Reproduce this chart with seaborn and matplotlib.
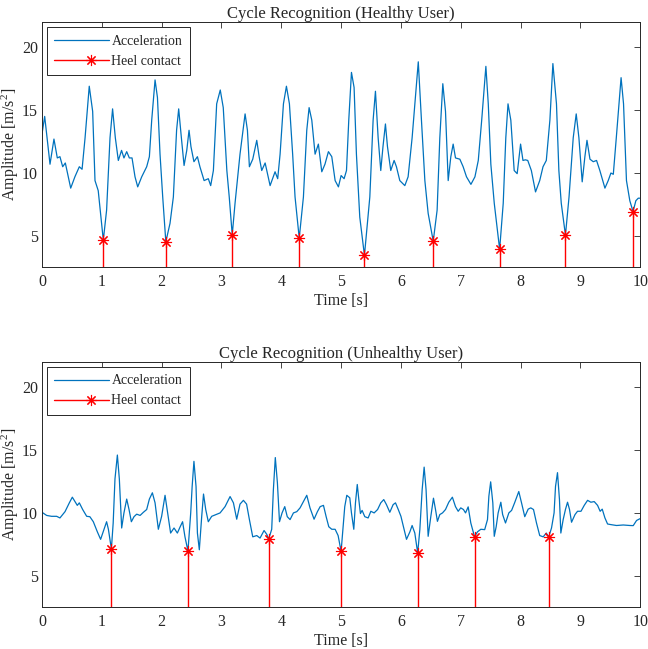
import numpy as np
import pandas as pd
import seaborn as sns
import matplotlib.pyplot as plt
from matplotlib.lines import Line2D
from matplotlib.legend_handler import HandlerLine2D

# Healthy user: acceleration trace
healthy_t = [0.00, 0.045, 0.134, 0.20, 0.256, 0.30, 0.346, 0.39, 0.48, 0.55, 0.624, 0.67,
             0.72, 0.79, 0.847, 0.886, 0.94, 1.025, 1.08, 1.137, 1.18, 1.226, 1.276, 1.33,
             1.37, 1.416, 1.46, 1.505, 1.555, 1.60, 1.667, 1.75, 1.795, 1.834, 1.89, 1.93,
             1.973, 2.018, 2.07, 2.14, 2.196, 2.25, 2.285, 2.33, 2.375, 2.42, 2.458, 2.49,
             2.54, 2.598, 2.64, 2.71, 2.78, 2.82, 2.865, 2.92, 2.98, 3.03, 3.09, 3.13,
             3.18, 3.227, 3.31, 3.395, 3.434, 3.467, 3.523, 3.59, 3.63, 3.673, 3.73, 3.813,
             3.896, 3.94, 3.98, 4.036, 4.086, 4.136, 4.19, 4.23, 4.30, 4.37, 4.426, 4.465,
             4.51, 4.565, 4.62, 4.677, 4.73, 4.788, 4.844, 4.90, 4.955, 5.00, 5.05, 5.09,
             5.128, 5.173, 5.217, 5.256, 5.312, 5.39, 5.48, 5.535, 5.574, 5.619, 5.663, 5.70,
             5.741, 5.775, 5.83, 5.886, 5.925, 5.981, 6.065, 6.12, 6.187, 6.29, 6.343, 6.40,
             6.455, 6.54, 6.605, 6.65, 6.70, 6.745, 6.79, 6.834, 6.873, 6.912, 6.985, 7.04,
             7.096, 7.17, 7.237, 7.293, 7.35, 7.42, 7.46, 7.503, 7.56, 7.65, 7.71, 7.753,
             7.79, 7.837, 7.893, 7.943, 8.00, 8.04, 8.08, 8.12, 8.18, 8.25, 8.32, 8.375,
             8.43, 8.49, 8.54, 8.60, 8.64, 8.68, 8.75, 8.81, 8.88, 8.93, 8.975, 9.03,
             9.075, 9.11, 9.16, 9.215, 9.27, 9.325, 9.41, 9.465, 9.51, 9.55, 9.60, 9.68,
             9.721, 9.77, 9.826, 9.88, 9.927, 9.967, 10.02]
healthy_a = [13.1, 14.5, 10.7, 12.7, 11.2, 11.3, 10.5, 10.8, 8.8, 9.7, 10.5, 10.3,
             12.8, 16.9, 14.9, 9.4, 8.6, 4.66, 7.05, 12.8, 15.1, 12.8, 11.0, 11.8,
             11.2, 11.7, 11.2, 11.2, 9.7, 8.9, 9.7, 10.5, 11.3, 14.2, 17.4, 16.0,
             11.5, 8.1, 4.53, 6.0, 8.1, 13.4, 15.1, 12.8, 10.6, 11.8, 13.4, 12.1,
             10.9, 11.3, 10.5, 9.4, 9.55, 9.0, 10.2, 15.5, 16.6, 15.2, 10.2, 8.1,
             5.08, 7.6, 11.5, 14.7, 13.4, 10.5, 11.1, 12.6, 11.3, 10.2, 10.8, 9.0,
             10.1, 9.55, 11.5, 15.5, 16.9, 15.5, 11.5, 8.1, 4.82, 8.1, 13.4, 15.2,
             14.2, 11.5, 12.3, 10.1, 10.7, 11.7, 11.3, 9.4, 8.9, 9.8, 9.55, 10.2,
             14.2, 18.0, 16.8, 11.5, 6.5, 3.45, 8.1, 14.2, 16.5, 12.8, 10.2, 12.1,
             13.9, 12.1, 10.2, 11.0, 10.5, 9.4, 9.0, 9.7, 12.8, 18.84, 14.2, 9.4,
             6.8, 4.58, 7.05, 12.8, 17.1, 14.9, 9.4, 11.3, 12.3, 11.2, 11.1, 10.5,
             9.7, 9.1, 9.7, 11.0, 14.2, 18.48, 15.5, 10.7, 7.6, 3.93, 7.6, 12.8,
             15.5, 14.2, 10.2, 9.95, 12.3, 11.0, 11.05, 11.0, 10.2, 8.5, 9.4, 10.5,
             11.0, 14.2, 18.7, 15.5, 10.2, 7.6, 5.06, 8.1, 12.8, 14.7, 12.8, 9.3,
             11.3, 12.6, 11.1, 10.9, 11.0, 10.2, 8.8, 9.4, 10.0, 9.9, 12.8, 17.58,
             15.5, 9.4, 7.8, 6.93, 7.8, 8.0, 8.0]
healthy_heel_t = [1.025, 2.07, 3.18, 4.30, 5.39, 6.54, 7.65, 8.75, 9.88]
healthy_heel_a = [4.66, 4.53, 5.08, 4.82, 3.45, 4.58, 3.93, 5.06, 6.93]

# Unhealthy user
unhealthy_t = [0.00, 0.078, 0.16, 0.245, 0.30, 0.385, 0.457, 0.507, 0.552, 0.59, 0.624, 0.68,
               0.747, 0.80, 0.858, 0.925, 0.98, 1.037, 1.08, 1.11, 1.16, 1.19, 1.22, 1.26,
               1.293, 1.332, 1.37, 1.416, 1.455, 1.494, 1.538, 1.583, 1.64, 1.695, 1.75, 1.795,
               1.845, 1.89, 1.945, 2.00, 2.057, 2.10, 2.15, 2.207, 2.263, 2.31, 2.35, 2.39,
               2.44, 2.486, 2.51, 2.54, 2.575, 2.598, 2.63, 2.67, 2.70, 2.737, 2.78, 2.837,
               2.893, 2.977, 3.06, 3.144, 3.20, 3.255, 3.31, 3.367, 3.42, 3.467, 3.523, 3.59,
               3.645, 3.712, 3.757, 3.79, 3.84, 3.868, 3.90, 3.935, 3.97, 4.013, 4.058, 4.10,
               4.147, 4.203, 4.259, 4.314, 4.37, 4.426, 4.48, 4.548, 4.604, 4.65, 4.705, 4.75,
               4.794, 4.844, 4.90, 4.95, 5.00, 5.03, 5.061, 5.095, 5.145, 5.173, 5.212, 5.24,
               5.27, 5.296, 5.323, 5.351, 5.396, 5.452, 5.497, 5.552, 5.61, 5.663, 5.713, 5.758,
               5.814, 5.87, 5.909, 5.953, 6.00, 6.048, 6.093, 6.15, 6.187, 6.232, 6.28, 6.316,
               6.355, 6.388, 6.42, 6.455, 6.50, 6.544, 6.578, 6.61, 6.65, 6.695, 6.745, 6.80,
               6.86, 6.912, 6.957, 7.00, 7.045, 7.08, 7.124, 7.168, 7.23, 7.28, 7.336, 7.40,
               7.447, 7.47, 7.50, 7.536, 7.56, 7.592, 7.625, 7.67, 7.70, 7.748, 7.804, 7.85,
               7.90, 7.97, 8.016, 8.07, 8.127, 8.17, 8.216, 8.266, 8.32, 8.378, 8.43, 8.47,
               8.517, 8.56, 8.584, 8.617, 8.65, 8.673, 8.712, 8.75, 8.785, 8.818, 8.852, 8.91,
               8.952, 9.01, 9.064, 9.12, 9.175, 9.231, 9.287, 9.33, 9.365, 9.41, 9.454, 9.51,
               9.604, 9.716, 9.827, 9.883, 9.939, 10.0]
unhealthy_a = [10.05, 9.8, 9.73, 9.73, 9.6, 10.1, 10.8, 11.25, 10.9, 10.6, 10.8, 10.27,
               9.73, 9.7, 9.3, 8.5, 7.9, 8.7, 9.3, 8.7, 7.13, 9.2, 12.7, 14.6,
               12.7, 8.8, 10.0, 11.1, 10.27, 9.3, 9.7, 9.9, 9.8, 10.05, 10.27, 11.1,
               11.6, 10.8, 8.7, 9.73, 11.4, 10.0, 8.4, 8.8, 8.4, 8.9, 9.3, 8.1,
               6.97, 10.0, 12.1, 14.1, 12.1, 8.4, 7.07, 9.73, 11.5, 10.27, 9.3, 9.73,
               9.84, 10.0, 10.5, 11.3, 10.8, 9.5, 10.7, 11.0, 10.7, 9.47, 8.1, 8.2,
               8.0, 8.6, 8.3, 7.93, 8.7, 11.86, 14.4, 12.4, 9.3, 10.0, 10.5, 9.7,
               9.47, 10.0, 10.1, 10.4, 10.9, 11.4, 10.4, 9.5, 10.1, 10.5, 10.6, 9.7,
               8.9, 8.7, 8.7, 8.2, 6.94, 8.67, 10.5, 11.4, 11.2, 10.0, 8.7, 10.8,
               12.26, 11.06, 9.95, 10.2, 9.7, 9.6, 10.13, 10.0, 10.27, 10.8, 11.06, 10.66,
               10.05, 10.66, 10.8, 10.3, 9.73, 8.8, 7.9, 8.5, 9.0, 8.4, 6.81, 8.67,
               11.86, 13.64, 11.86, 8.14, 9.73, 11.17, 10.27, 9.33, 9.87, 10.0, 10.27, 10.85,
               11.25, 10.5, 10.13, 10.4, 10.27, 10.0, 10.48, 9.2, 8.11, 8.5, 8.7, 8.67,
               9.47, 11.33, 12.47, 10.8, 8.14, 8.9, 10.0, 10.85, 9.87, 9.2, 10.0, 10.2,
               10.8, 11.7, 10.8, 9.7, 10.3, 10.4, 10.27, 9.2, 8.2, 8.1, 8.4, 8.08,
               8.8, 10.0, 12.1, 13.2, 11.06, 8.4, 9.47, 10.27, 10.85, 10.27, 9.26, 9.87,
               10.13, 10.13, 10.6, 11.0, 10.85, 10.9, 10.6, 10.13, 10.3, 9.6, 9.12, 9.07,
               9.0, 9.04, 9.0, 8.99, 9.4, 9.55]
unhealthy_heel_t = [1.16, 2.44, 3.79, 5.00, 6.28, 7.23, 8.47]
unhealthy_heel_a = [7.13, 6.97, 7.93, 6.94, 6.81, 8.11, 8.08]

titles = ['Cycle Recognition (Healthy User)', 'Cycle Recognition (Unhealthy User)']

sns.set_style('white')
plt.rcParams['font.family'] = ['Liberation Serif', 'DejaVu Serif']
plt.rcParams['mathtext.fontset'] = 'custom'
plt.rcParams['mathtext.rm'] = 'Liberation Serif'
plt.rcParams['mathtext.it'] = 'Liberation Serif:italic'

blue = '#0072BD'
dark = '#262626'
star = (8, 2, 0)


class HandlerStem(HandlerLine2D):
    # MATLAB puts the stem marker toward the right end of the legend line
    def create_artists(self, legend, orig_handle, xdescent, ydescent,
                       width, height, fontsize, trans):
        artists = super().create_artists(legend, orig_handle, xdescent, ydescent,
                                         width, height, fontsize, trans)
        line = artists[0]
        xd = list(line.get_xdata())
        if len(xd) == 3:
            xd[1] = xd[0] + 0.67 * (xd[2] - xd[0])
            line.set_xdata(xd)
        return artists


def drawPanel(ax, t, a, heel_t, heel_a, title):
    df = pd.DataFrame({'Time': t, 'Amp': a})
    sns.lineplot(data=df, x='Time', y='Amp', ax=ax, color=blue, lw=0.9,
                 sort=False, estimator=None)
    markerline, stemlines, baseline = ax.stem(heel_t, heel_a, linefmt='r-',
                                              markerfmt='r*', basefmt=' ',
                                              bottom=0)
    stemlines.set_linewidth(1.0)
    markerline.set_marker(star)
    markerline.set_markersize(8)
    markerline.set_markeredgewidth(0.8)
    ax.set_xlim(0, 10)
    ax.set_ylim(2.5, 22)
    ax.set_xticks(range(0, 11))
    ax.set_yticks([5, 10, 15, 20])
    ax.tick_params(direction='in', top=True, right=True, length=4, width=0.6,
                   colors=dark, labelsize=11.5, labelcolor=dark)
    ax.tick_params(axis='x', pad=5)
    ax.tick_params(axis='y', pad=3)
    for s in ax.spines.values():
        s.set_color(dark)
        s.set_linewidth(0.7)
    ax.set_title(title, fontsize=12, pad=3, color=dark)
    ax.set_xlabel('Time [s]', fontsize=11.5, color=dark, labelpad=2)
    ax.set_ylabel('Amplitude [m/s$^2$]', fontsize=11.5, color=dark)
    ax.yaxis.set_label_coords(-0.035, 0.5)
    stem_handle = Line2D([], [], color='r', lw=1.0, marker=star, markersize=8,
                         markeredgewidth=0.8)
    handles = [Line2D([], [], color=blue, lw=0.9), stem_handle]
    leg = ax.legend(handles, ['Acceleration', 'Heel contact'], loc='upper left',
                    fancybox=False, framealpha=1, edgecolor=dark,
                    handlelength=3.9, handletextpad=0.2, fontsize=10,
                    borderpad=0.55, labelspacing=0.5, borderaxespad=0.35,
                    handler_map={stem_handle: HandlerStem()})
    leg.get_frame().set_linewidth(0.7)


fig = plt.figure(figsize=(6.48, 6.49), dpi=100)
ax1 = fig.add_axes([0.0648, 0.588, 0.9232, 0.378])
ax2 = fig.add_axes([0.0648, 0.0643, 0.9232, 0.378])
drawPanel(ax1, healthy_t, healthy_a, healthy_heel_t, healthy_heel_a, titles[0])
drawPanel(ax2, unhealthy_t, unhealthy_a, unhealthy_heel_t, unhealthy_heel_a, titles[1])
fig.savefig('out.png', dpi=100)
